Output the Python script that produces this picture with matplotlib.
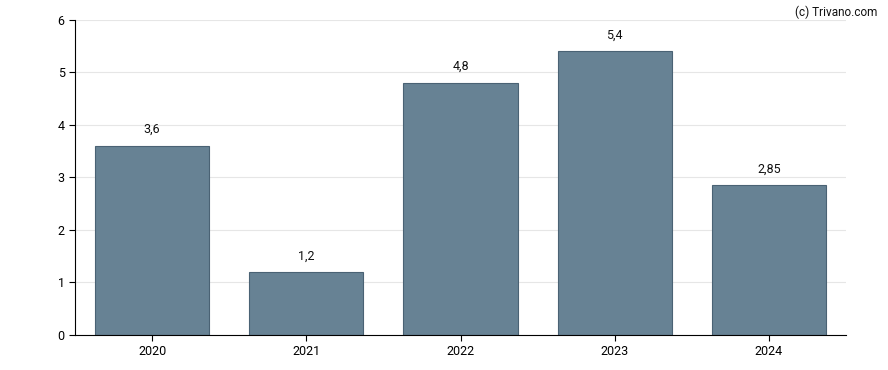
import matplotlib
matplotlib.use("Agg")
import matplotlib.pyplot as plt

# Data
years = ["2020", "2021", "2022", "2023", "2024"]
values = [3.6, 1.2, 4.8, 5.4, 2.85]
labels = ["3,6", "1,2", "4,8", "5,4", "2,85"]

plt.rcParams["font.family"] = ["Roboto", "DejaVu Sans"]

fig = plt.figure(figsize=(8.88, 3.7), dpi=100)
ax = fig.add_axes([0.0845, 0.0946, 0.8682, 0.8514])

x = range(len(years))
bars = ax.bar(x, values, width=0.74, color="#678294", edgecolor="#4a6274", linewidth=0.8, zorder=2)

# value labels above bars
for b, lab in zip(bars, labels):
    ax.annotate(lab, (b.get_x() + b.get_width() / 2, b.get_height()),
                xytext=(0, 7), textcoords="offset points",
                ha="center", va="bottom", fontsize=9, color="#111111")

ax.set_xlim(-0.5, len(years) - 0.5)
ax.set_ylim(0, 6)
ax.set_xticks(list(x))
ax.set_xticklabels(years)
ax.set_yticks(range(0, 7))
ax.tick_params(labelsize=9, length=4, colors="black")
ax.yaxis.grid(True, color="#e6e6e6", linewidth=0.8, zorder=0)
ax.set_axisbelow(True)
ax.spines["top"].set_visible(False)
ax.spines["right"].set_visible(False)

fig.text(0.9875, 0.985, "(c) Trivano.com", ha="right", va="top", fontsize=8.5, color="#111111")

fig.savefig("out.png", dpi=100)
